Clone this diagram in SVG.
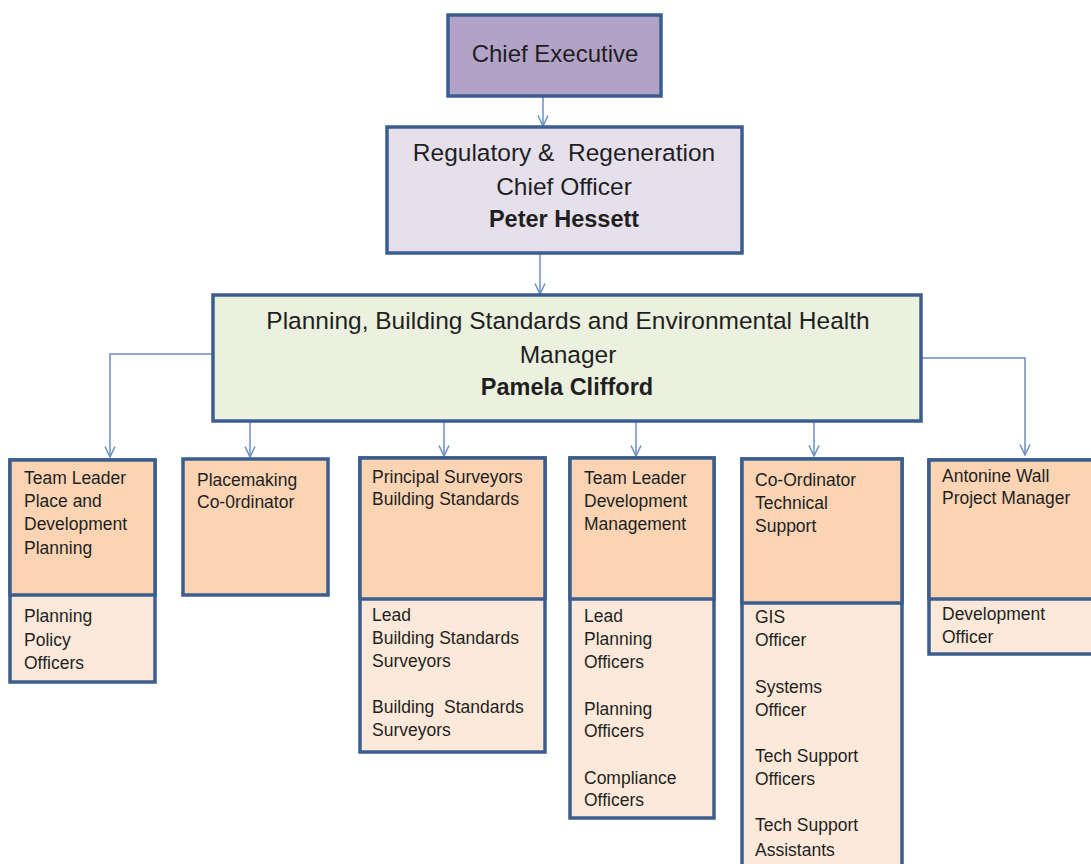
<svg xmlns="http://www.w3.org/2000/svg" width="1091" height="864" viewBox="0 0 1091 864">
<defs>
<marker id="arr" viewBox="0 0 12 12" refX="11.5" refY="6" markerWidth="12" markerHeight="12" markerUnits="userSpaceOnUse" orient="auto">
<path d="M1,1 L11.5,6 L1,11" fill="none" stroke="#6a8fc4" stroke-width="1.5"/>
</marker>
<style>
.box{stroke:#3b5e8e;stroke-width:3.5}
.top{fill:#fbd4b4}
.bot{fill:#fde9d9}
.t{font-family:"Liberation Sans",Arial,sans-serif;font-size:17.5px;fill:#1f1f1f;white-space:pre}
.h{font-family:"Liberation Sans",Arial,sans-serif;font-size:24.5px;fill:#1f1f1f;text-anchor:middle;white-space:pre}
.b{font-weight:bold}
.c{fill:none;stroke:#6a8fc4;stroke-width:1.5}
</style>
</defs>
<rect width="1091" height="864" fill="#ffffff"/>
<g id="connectors">
<line class="c" x1="543" y1="97" x2="543" y2="126" marker-end="url(#arr)"/>
<line class="c" x1="540" y1="254" x2="540" y2="294" marker-end="url(#arr)"/>
<polyline class="c" points="213,354 110,354 110,457" marker-end="url(#arr)"/>
<polyline class="c" points="921,358 1025,358 1025,455" marker-end="url(#arr)"/>
<line class="c" x1="250" y1="422" x2="250" y2="457" marker-end="url(#arr)"/>
<line class="c" x1="444" y1="422" x2="444" y2="456" marker-end="url(#arr)"/>
<line class="c" x1="636" y1="422" x2="636" y2="456" marker-end="url(#arr)"/>
<line class="c" x1="814" y1="422" x2="814" y2="456" marker-end="url(#arr)"/>
</g>
<g id="chief-executive">
<rect class="box" x="448" y="15" width="213" height="81" fill="#b3a2c7"/>
<text class="h" x="555" y="62" style="font-size:24px">Chief Executive</text>
</g>
<g id="chief-officer">
<rect class="box" x="387" y="127" width="355" height="126" fill="#e6e0ec"/>
<text class="h" x="564" y="161" xml:space="preserve">Regulatory &amp;  Regeneration</text>
<text class="h" x="564" y="195">Chief Officer</text>
<text class="h b" x="564" y="227" style="font-size:23.5px">Peter Hessett</text>
</g>
<g id="manager">
<rect class="box" x="213" y="295" width="708" height="126" fill="#ebf1de"/>
<text class="h" x="568" y="329">Planning, Building Standards and Environmental Health</text>
<text class="h" x="568" y="363">Manager</text>
<text class="h b" x="567" y="395" style="font-size:23.5px">Pamela Clifford</text>
</g>
<g id="team-leader-place">
<rect class="box bot" x="10" y="460" width="145" height="222"/>
<rect class="box top" x="10" y="460" width="145" height="135"/>
<text class="t" x="24" y="484">Team Leader</text>
<text class="t" x="24" y="507">Place and</text>
<text class="t" x="24" y="530">Development</text>
<text class="t" x="24" y="554">Planning</text>
<text class="t" x="24" y="622">Planning</text>
<text class="t" x="24" y="646">Policy</text>
<text class="t" x="24" y="669">Officers</text>
</g>
<g id="placemaking">
<rect class="box top" x="183" y="459" width="145" height="136"/>
<text class="t" x="197" y="486">Placemaking</text>
<text class="t" x="197" y="508">Co-0rdinator</text>
</g>
<g id="principal-surveyors">
<rect class="box bot" x="360" y="458" width="185" height="294"/>
<rect class="box top" x="360" y="458" width="185" height="141"/>
<text class="t" x="372" y="483">Principal Surveyors</text>
<text class="t" x="372" y="505">Building Standards</text>
<text class="t" x="372" y="621">Lead</text>
<text class="t" x="372" y="644">Building Standards</text>
<text class="t" x="372" y="667">Surveyors</text>
<text class="t" x="372" y="713" xml:space="preserve">Building  Standards</text>
<text class="t" x="372" y="736">Surveyors</text>
</g>
<g id="team-leader-dm">
<rect class="box bot" x="570" y="458" width="144" height="360"/>
<rect class="box top" x="570" y="458" width="144" height="141"/>
<text class="t" x="584" y="484">Team Leader</text>
<text class="t" x="584" y="507">Development</text>
<text class="t" x="584" y="530">Management</text>
<text class="t" x="584" y="622">Lead</text>
<text class="t" x="584" y="645">Planning</text>
<text class="t" x="584" y="668">Officers</text>
<text class="t" x="584" y="715">Planning</text>
<text class="t" x="584" y="737">Officers</text>
<text class="t" x="584" y="784">Compliance</text>
<text class="t" x="584" y="806">Officers</text>
</g>
<g id="co-ordinator-tech">
<rect class="box bot" x="742" y="459" width="160" height="420"/>
<rect class="box top" x="742" y="459" width="160" height="144"/>
<text class="t" x="755" y="486">Co-Ordinator</text>
<text class="t" x="755" y="509">Technical</text>
<text class="t" x="755" y="532">Support</text>
<text class="t" x="755" y="623">GIS</text>
<text class="t" x="755" y="646">Officer</text>
<text class="t" x="755" y="693">Systems</text>
<text class="t" x="755" y="716">Officer</text>
<text class="t" x="755" y="762">Tech Support</text>
<text class="t" x="755" y="785">Officers</text>
<text class="t" x="755" y="831">Tech Support</text>
<text class="t" x="755" y="856">Assistants</text>
</g>
<g id="antonine-wall">
<rect class="box bot" x="929" y="460" width="170" height="194"/>
<rect class="box top" x="929" y="460" width="170" height="139"/>
<text class="t" x="942" y="482">Antonine Wall</text>
<text class="t" x="942" y="504">Project Manager</text>
<text class="t" x="942" y="620">Development</text>
<text class="t" x="942" y="643">Officer</text>
</g>
</svg>
